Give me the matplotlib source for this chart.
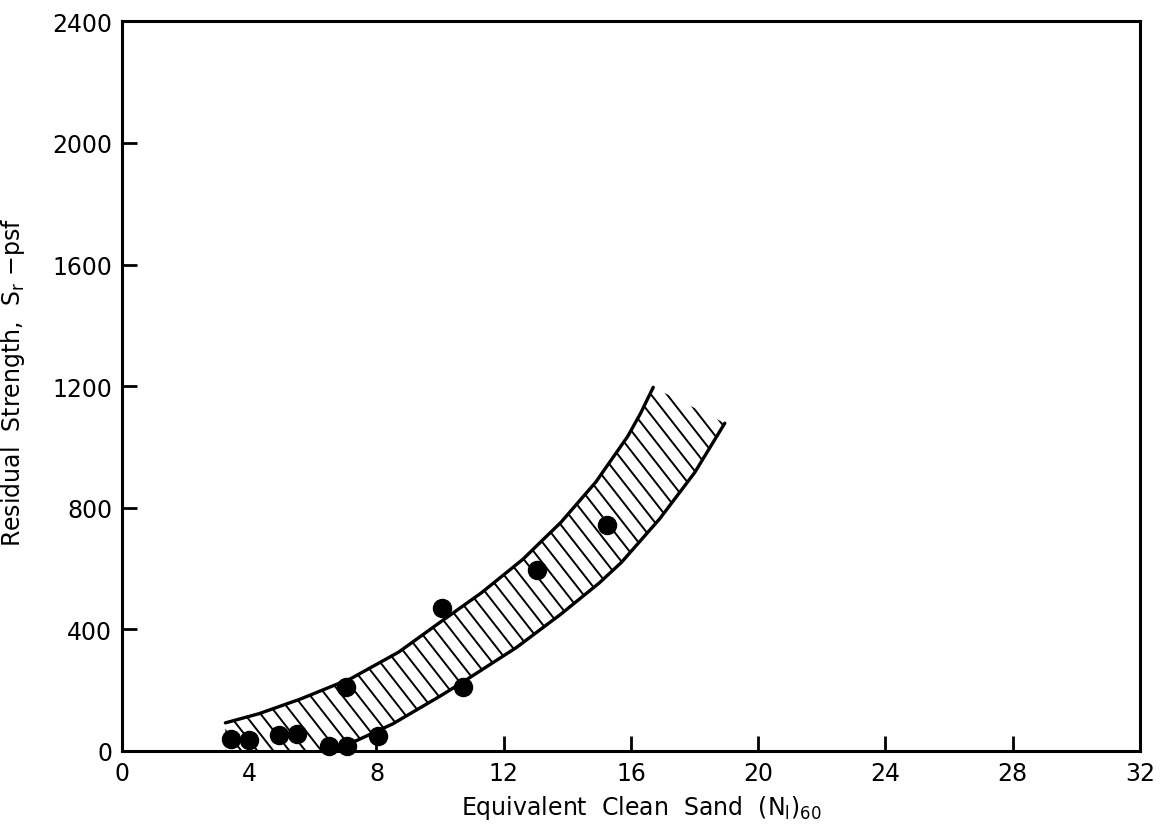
import matplotlib
matplotlib.use("Agg")
import matplotlib.pyplot as plt
from matplotlib.collections import LineCollection
from matplotlib.patches import Polygon
import numpy as np

# Data points: Equivalent clean sand (N1)60 vs residual strength (psf)
pts_x = [3.42, 4.0, 4.94, 5.51, 6.51, 7.07, 8.04, 7.03, 10.05, 10.71, 13.06, 15.24]
pts_y = [39, 37, 53, 55, 17, 15, 48, 210, 470, 210, 596, 743]

# Upper bound of the band
upper_x = [3.25, 4.3, 5.6, 7.2, 8.7, 10.0, 11.3, 12.6, 13.8, 14.9, 15.9, 16.3, 16.7]
upper_y = [92, 122, 170, 238, 325, 423, 520, 630, 752, 885, 1035, 1110, 1196]

# Lower bound of the band (runs along the axis at the left end)
lower_x = [3.25, 6.6, 6.8, 7.4, 8.5, 10.0, 10.8, 12.4, 13.8, 15.0, 15.7, 16.9, 18.0, 18.95]
lower_y = [0, 0, 10, 35, 88, 180, 232, 340, 450, 552, 620, 763, 915, 1078]

x_ticks = [0, 4, 8, 12, 16, 20, 24, 28, 32]
y_ticks = [0, 400, 800, 1200, 1600, 2000, 2400]

plt.rcParams['font.family'] = ['DejaVu Sans']

fig = plt.figure(figsize=(11.62, 8.28), dpi=100)
ax = fig.add_axes([0.105, 0.092, 0.876, 0.881])
ax.set_xlim(0, 32)
ax.set_ylim(0, 2400)

# Band outline used as a clip region for the hatching
band_xy = np.column_stack([list(upper_x) + list(lower_x[::-1]),
                           list(upper_y) + list(lower_y[::-1])])
band = Polygon(band_xy, closed=True, facecolor='none', edgecolor='none')
ax.add_patch(band)

# Parallel hatch lines (built in display space, clipped to the band)
T = ax.transData
bp = T.transform(band_xy)
theta = np.deg2rad(52)
spacing = 16.0  # horizontal pixel spacing between hatch lines
sn, cs = np.sin(theta), np.cos(theta)
kvals = bp[:, 0] * sn + bp[:, 1] * cs
ymin, ymax = bp[:, 1].min() - 5, bp[:, 1].max() + 5
segs = []
for k in np.arange(kvals.min(), kvals.max() + spacing * sn, spacing * sn):
    p0 = ((k - ymax * cs) / sn, ymax)
    p1 = ((k - ymin * cs) / sn, ymin)
    d = T.inverted().transform([p0, p1])
    segs.append([tuple(d[0]), tuple(d[1])])
hatch = LineCollection(segs, colors='black', linewidths=1.4)
ax.add_collection(hatch)
hatch.set_clip_path(band)

# Boundary curves
ax.plot(upper_x, upper_y, color='black', lw=2.4, solid_capstyle='round',
        solid_joinstyle='round')
lx = [x for x, y in zip(lower_x, lower_y) if y > 0]
ly = [y for y in lower_y if y > 0]
ax.plot(lx, ly, color='black', lw=2.4, solid_capstyle='round',
        solid_joinstyle='round')

# Points
ax.plot(pts_x, pts_y, 'o', color='black', markersize=13, clip_on=False, zorder=5)

ax.set_xticks(x_ticks)
ax.set_yticks(y_ticks)
ax.set_xticklabels([str(v) for v in x_ticks])
ax.set_yticklabels([str(v) for v in y_ticks])
ax.tick_params(direction='in', length=11, width=2, labelsize=17, pad=7)

for s in ax.spines.values():
    s.set_linewidth(2.2)

ax.set_xlabel(r'Equivalent  Clean  Sand  (N$_{\mathregular{l}}$)$_{\mathregular{60}}$', fontsize=17)
ax.set_ylabel(r'Residual  Strength,  S$_{\mathregular{r}}$ $-$psf', fontsize=17)
ax.xaxis.set_label_coords(0.51, -0.058)
ax.yaxis.set_label_coords(-0.093, 0.507)

fig.savefig('out.png', dpi=100)
